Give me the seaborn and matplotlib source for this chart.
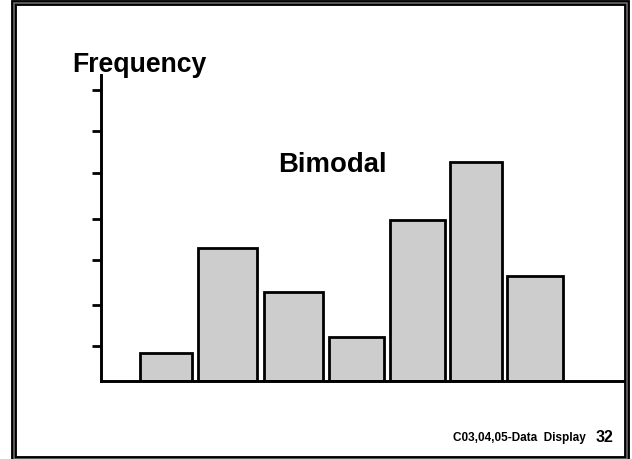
import numpy as np
import pandas as pd
import matplotlib
matplotlib.use("Agg")
import matplotlib.pyplot as plt
from matplotlib.patches import Rectangle
import seaborn as sns

# Class boundaries and frequencies of a bimodal distribution
class_edges = [3.66, 9.34, 15.94, 22.47, 28.6, 34.65, 40.32, 46.47]
frequencies = [1.9, 9.1, 6.1, 3.0, 11.0, 15.0, 7.2]
tick_values = [2.4, 5.2, 8.3, 11.1, 14.2, 17.1, 19.9]

y_label = "Frequency"
shape_label = "Bimodal"
footer_text = "C03,04,05-Data  Display"
page_number = "32"

sns.set_theme(style="white")
plt.rcParams["font.family"] = ["Liberation Sans", "DejaVu Sans"]

edges = np.array(class_edges)
mids = (edges[:-1] + edges[1:]) / 2
df = pd.DataFrame({"value": mids, "freq": frequencies})

W, H = 632, 460
fig = plt.figure(figsize=(W / 100, H / 100), dpi=100)
fig.patch.set_facecolor("white")

left, right, bottom, top = 101, 625, 382, 76
ax = fig.add_axes([left / W, 1 - bottom / H, (right - left) / W, (bottom - top) / H])

sns.histplot(data=df, x="value", weights="freq", bins=class_edges,
             shrink=0.905, color="#cdcdcd", alpha=1.0,
             edgecolor="black", linewidth=2.0, ax=ax)

ax.set_xlim(0, 52.4)
ax.set_ylim(0, 21.0 * (bottom - top) / 307)
ax.set_xlabel("")
ax.set_ylabel("")
ax.set_xticks([])
ax.set_yticks(tick_values)
ax.set_yticklabels([])
ax.tick_params(axis="y", direction="out", length=6.5, width=2.0,
               color="black", left=True, labelleft=False)
for side in ("top", "right"):
    ax.spines[side].set_visible(False)
for side in ("left", "bottom"):
    ax.spines[side].set_color("black")
    ax.spines[side].set_linewidth(2.1)
ax.set_facecolor("white")

# Axis caption and annotation
fig.text(72 / W, 1 - 72.5 / H, y_label, ha="left", va="baseline",
         fontsize=19.2, fontweight="bold", color="black")
fig.text(278 / W, 1 - 171.5 / H, shape_label, ha="left", va="baseline",
         fontsize=19.8, fontweight="bold", color="black")

# Footer
fig.text(453 / W, 1 - 441 / H, footer_text, ha="left", va="baseline",
         fontsize=8.5, fontweight="bold", color="black")
fig.text(596 / W, 1 - 442 / H, page_number, ha="left", va="baseline",
         fontsize=11.5, fontweight="bold", color="black")

# Slide frame: thick dark border with a grey core
fx0, fx1 = 13.8 / W, 627.5 / W
fy0, fy1 = 0.5 / H, 1 - 3.7 / H
fig.patches.append(Rectangle((fx0, fy0), fx1 - fx0, fy1 - fy0,
                             transform=fig.transFigure, fill=False,
                             edgecolor="black", linewidth=4.2, zorder=10))
fig.patches.append(Rectangle((fx0, fy0), fx1 - fx0, fy1 - fy0,
                             transform=fig.transFigure, fill=False,
                             edgecolor="#6a6a6a", linewidth=1.2, zorder=11))

fig.savefig("out.png", dpi=100, facecolor="white")
